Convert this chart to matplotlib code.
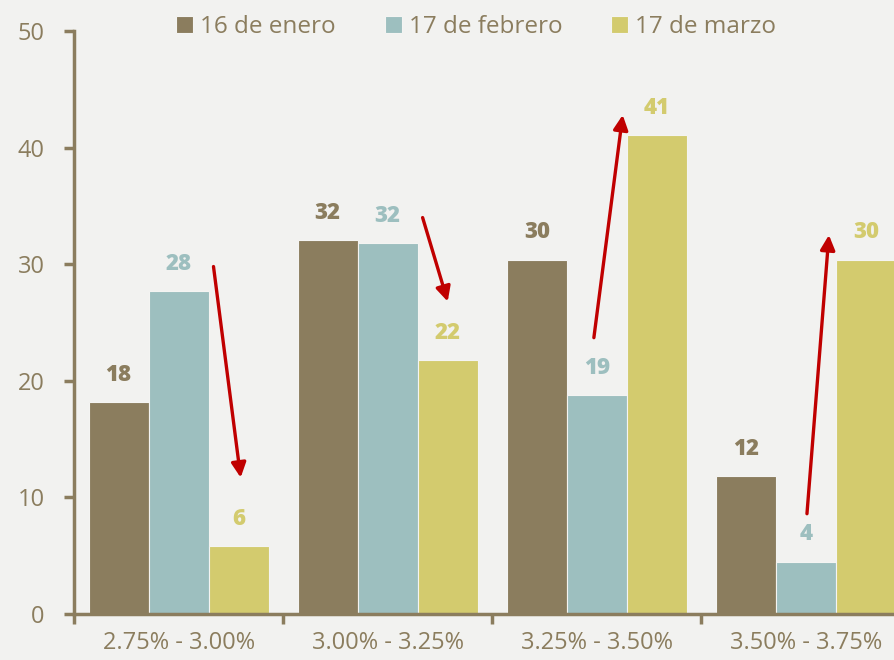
import matplotlib.pyplot as plt
import numpy as np

categories = ['2.75% - 3.00%', '3.00% - 3.25%', '3.25% - 3.50%', '3.50% - 3.75%']
series_names = ['16 de enero', '17 de febrero', '17 de marzo']
enero = [18.2, 32.1, 30.4, 11.8]
febrero = [27.7, 31.8, 18.8, 4.5]
marzo = [5.8, 21.8, 41.1, 30.4]
colors = ['#8B7D5E', '#9DBFBF', '#D3CB6E']

# arrows: (x_start, y_start, x_end, y_end) in data units
arrows = [
    (0.167, 29.8, 0.297, 11.7),
    (1.167, 34.0, 1.287, 26.8),
    (1.986, 23.7, 2.124, 42.8),
    (3.005, 8.6, 3.110, 32.5),
]

text_color = '#8B7D5E'
bg = '#F2F2F0'
plt.rcParams['font.family'] = ['Open Sans', 'DejaVu Sans']

fig = plt.figure(figsize=(8.95, 6.6), dpi=100, facecolor=bg)
ax = fig.add_axes([0.0827, 0.0697, 0.9173, 0.8833], facecolor=bg)

x = np.arange(len(categories))
w = 0.287
for i, vals in enumerate([enero, febrero, marzo]):
    bars = ax.bar(x + (i - 1) * w, vals, w, color=colors[i], edgecolor='#F4F4F2',
                  linewidth=0.8, label=series_names[i], zorder=2)
    for b, v in zip(bars, vals):
        ax.text(b.get_x() + b.get_width() / 2, v + 1.3, f'{round(v)}',
                ha='center', va='bottom', fontsize=16, fontweight='heavy', color=colors[i])

for x0, y0, x1, y1 in arrows:
    ax.annotate('', xy=(x1, y1), xytext=(x0, y0),
                arrowprops=dict(arrowstyle='-|>', color='#C00000', lw=2.4,
                                mutation_scale=22, shrinkA=0, shrinkB=0), zorder=3)

ax.set_yticks(range(0, 51, 10))
ax.set_xticks(x)
ax.set_xticklabels(categories)
ax.set_xticks(np.arange(-0.5, 3, 1), minor=True)
ax.set_xlim(-0.5, 3.426)
ax.set_ylim(0, 50)
ax.tick_params(axis='x', which='major', length=0, pad=12, labelsize=17, labelcolor=text_color)
ax.tick_params(axis='x', which='minor', length=7, width=2.5, color=text_color, direction='out')
ax.tick_params(axis='y', length=7, width=2.5, color=text_color, labelsize=17,
               labelcolor=text_color, pad=14)
for s in ['top', 'right']:
    ax.spines[s].set_visible(False)
for s in ['left', 'bottom']:
    ax.spines[s].set_color(text_color)
    ax.spines[s].set_linewidth(2.5)

leg = ax.legend(loc='upper center', bbox_to_anchor=(0.49, 1.065), ncol=3, frameon=False,
                fontsize=17.5, handlelength=0.7, handleheight=0.7, handletextpad=0.3,
                columnspacing=2.0, labelcolor=text_color)

fig.savefig('out.png', dpi=100, facecolor=bg)
